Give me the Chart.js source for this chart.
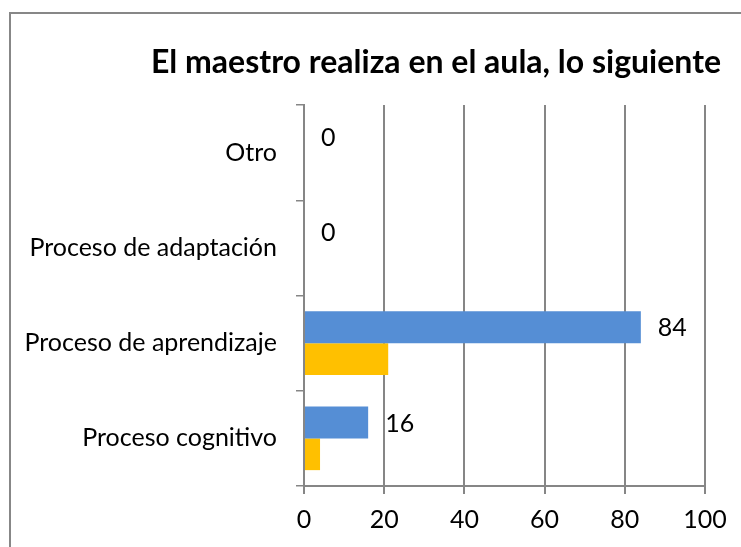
<!DOCTYPE html>
<html>
<head>
<meta charset="utf-8">
<script src="https://cdn.jsdelivr.net/npm/chart.js@4"></script>
<style>
  html, body { margin: 0; padding: 0; background: #fff; overflow: hidden; }
  #frame {
    position: absolute; left: 9px; top: 12px;
    width: 732px; height: 535px;
    border-left: 2px solid #878787; border-top: 2px solid #878787;
  }
  #chart { display: block; }
</style>
</head>
<body>
<div id="frame">
  <canvas id="chart" width="730" height="533"></canvas>
</div>
<script>
var titulo = 'El maestro realiza en el aula, lo siguiente';
var categories = ['Otro', 'Proceso de adaptación', 'Proceso de aprendizaje', 'Proceso cognitivo'];
var serieAzul = [0, 0, 84, 16];
var serieNaranja = [0, 0, 21, 4];
var xTicks = [0, 20, 40, 60, 80, 100];

var gris = '#868686';

// el titulo no va centrado sobre el canvas, se dibuja aparte
var tituloPlugin = {
  id: 'tituloPlugin',
  afterDraw: function(chart) {
    var ctx = chart.ctx;
    ctx.save();
    ctx.font = 'bold 32px Lato';
    ctx.fillStyle = '#000';
    ctx.textAlign = 'center';
    ctx.textBaseline = 'middle';
    ctx.fillText(titulo, 425, 49);
    ctx.restore();
  }
};

// etiquetas de valor solo para la serie azul
var etiquetas = {
  id: 'etiquetas',
  afterDatasetsDraw: function(chart) {
    var ctx = chart.ctx;
    var meta = chart.getDatasetMeta(0);
    ctx.save();
    ctx.font = '25px Lato';
    ctx.fillStyle = '#000';
    ctx.textAlign = 'left';
    ctx.textBaseline = 'middle';
    meta.data.forEach(function(bar, i) {
      ctx.fillText(String(serieAzul[i]), bar.x + 17, bar.y + 1);
    });
    ctx.restore();
  }
};

new Chart(document.getElementById('chart').getContext('2d'), {
  type: 'bar',
  data: {
    labels: categories,
    datasets: [{
      data: serieAzul,
      backgroundColor: '#558ED5',
      categoryPercentage: 0.667,
      barPercentage: 1.0
    }, {
      data: serieNaranja,
      backgroundColor: '#FFC000',
      categoryPercentage: 0.667,
      barPercentage: 1.0
    }]
  },
  options: {
    indexAxis: 'y',
    responsive: false,
    animation: false,
    layout: { padding: { left: 0, right: 36, top: 91, bottom: 1 } },
    plugins: {
      legend: { display: false },
      tooltip: { enabled: false },
      title: { display: false }
    },
    scales: {
      x: {
        min: 0,
        max: 100,
        afterBuildTicks: function(scale) {
          scale.ticks = xTicks.map(function(v) { return { value: v }; });
        },
        grid: { color: gris, lineWidth: 2, tickLength: 8 },
        border: { color: gris, width: 2 },
        ticks: { color: '#000', padding: 11, font: { family: 'Lato', size: 25 } }
      },
      y: {
        afterFit: function(scale) { scale.width = 293; },
        grid: { drawOnChartArea: false, color: gris, lineWidth: 1.5, tickLength: 8 },
        border: { color: gris, width: 2 },
        ticks: { color: '#000', padding: 19, font: { family: 'Lato', size: 25 } }
      }
    }
  },
  plugins: [etiquetas, tituloPlugin]
});
</script>
</body>
</html>
